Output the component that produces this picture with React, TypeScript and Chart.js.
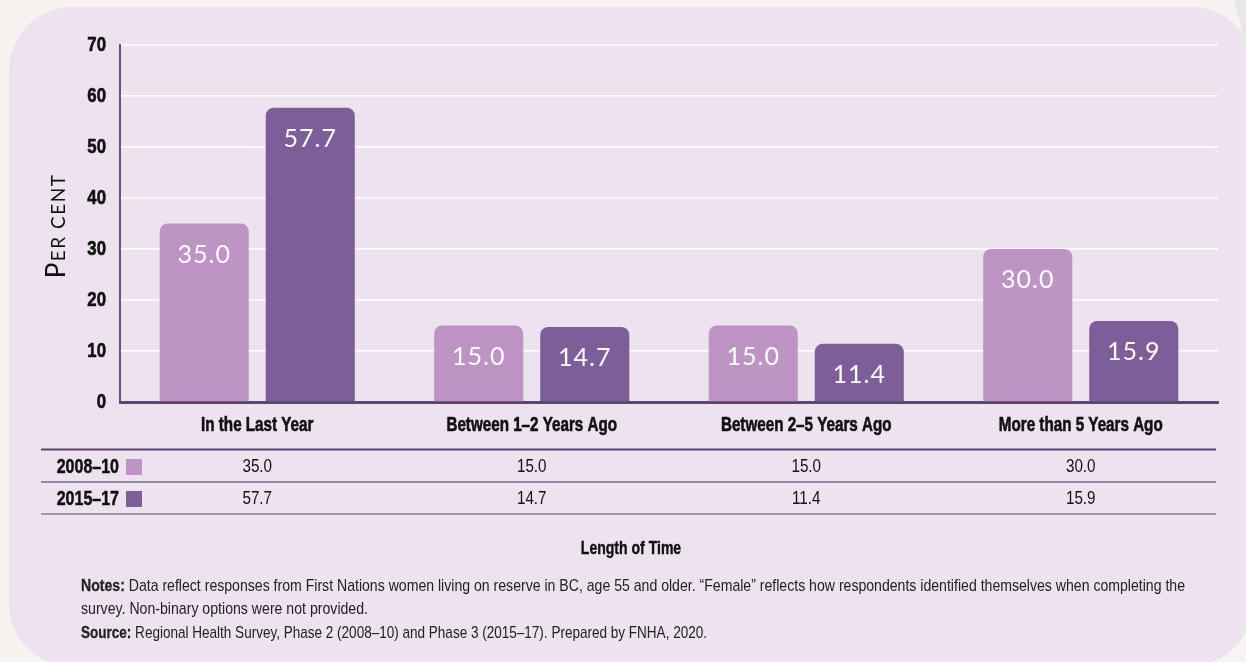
import React, { useEffect, useRef } from "react";
import { Chart, registerables } from "chart.js";

Chart.register(...registerables);

const categories = [
  "In the Last Year",
  "Between 1–2 Years Ago",
  "Between 2–5 Years Ago",
  "More than 5 Years Ago",
];
const seriesNames = ["2008–10", "2015–17"];
const values2008 = [35.0, 15.0, 15.0, 30.0];
const values2015 = [57.7, 14.7, 11.4, 15.9];
const seriesColors = ["#bd94c4", "#7d5e98"];
const yMin = 0;
const yMax = 70;
const yStep = 10;
const yTickLabels = ["0", "10", "20", "30", "40", "50", "60", "70"];
const yTitleFirst = "P";
const yTitleRest = "ER CENT";
const xTitle = "Length of Time";
const notesBold = "Notes:";
const notesLine1 =
  " Data reflect responses from First Nations women living on reserve in BC, age 55 and older. “Female” reflects how respondents identified themselves when completing the";
const notesLine2 = "survey. Non-binary options were not provided.";
const sourceBold = "Source:";
const sourceText =
  " Regional Health Survey, Phase 2 (2008–10) and Phase 3 (2015–17). Prepared by FNHA, 2020.";

const SANS = "'Liberation Sans', Arial, sans-serif";
const ROUND = "Lato, 'Noto Sans', sans-serif";
const NARROW_X = 0.78;

const W = 1246;
const H = 662;

function txt(
  ctx: CanvasRenderingContext2D,
  s: string,
  x: number,
  y: number,
  size: number,
  bold: boolean,
  align: CanvasTextAlign,
  sx: number = NARROW_X,
  color: string = "#111",
  heavy: number = 0
) {
  ctx.save();
  ctx.font = `${bold ? 700 : 400} ${size}px ${SANS}`;
  ctx.fillStyle = color;
  ctx.textAlign = align;
  ctx.textBaseline = "middle";
  ctx.translate(x, y);
  ctx.scale(sx, 1);
  ctx.fillText(s, 0, 0);
  if (heavy > 0) {
    ctx.strokeStyle = color;
    ctx.lineWidth = heavy;
    ctx.lineJoin = "round";
    ctx.strokeText(s, 0, 0);
  }
  ctx.restore();
}

const panelPlugin = {
  id: "panelBg",
  beforeDraw(chart: any) {
    const ctx = chart.ctx;
    ctx.save();
    ctx.fillStyle = "#f6f3f0";
    ctx.fillRect(0, 0, W, H);
    ctx.fillStyle = "#e8e6e7";
    ctx.beginPath();
    ctx.moveTo(1234, 0);
    ctx.lineTo(1246, 0);
    ctx.lineTo(1246, 45);
    ctx.closePath();
    ctx.fill();
    ctx.fillStyle = "#ede3ef";
    ctx.beginPath();
    (ctx as any).roundRect(9, 7, 1243, 658, [63, 60, 60, 60]);
    ctx.fill();
    ctx.restore();
  },
};

const labelsPlugin = {
  id: "barLabels",
  afterDatasetsDraw(chart: any) {
    const ctx = chart.ctx;
    ctx.save();
    ctx.fillStyle = "#ffffff";
    ctx.font = `400 25px ${ROUND}`;
    ctx.textAlign = "center";
    ctx.textBaseline = "middle";
    (ctx as any).letterSpacing = "1px";
    chart.data.datasets.forEach((ds: any, di: number) => {
      const meta = chart.getDatasetMeta(di);
      meta.data.forEach((el: any, i: number) => {
        ctx.fillText(ds.data[i].toFixed(1), el.x, el.y + 31);
      });
    });
    ctx.restore();
  },
};

const extrasPlugin = {
  id: "extras",
  afterDraw(chart: any) {
    const ctx: CanvasRenderingContext2D = chart.ctx;
    const xs = chart.scales.x;
    const ys = chart.scales.y;
    ctx.save();

    // Y tick labels
    yTickLabels.forEach((t) => {
      txt(ctx, t, 106, ys.getPixelForValue(Number(t)) + 0.5, 21, true, "right", 0.8, "#111", 0.6);
    });

    // X category labels
    categories.forEach((c, i) => {
      txt(ctx, c, xs.getPixelForValue(i), 425, 20, true, "center", 0.76, "#111", 0.6);
    });

    // Y axis title (small caps)
    ctx.save();
    ctx.translate(65, 226);
    ctx.rotate(-Math.PI / 2);
    ctx.fillStyle = "#111";
    ctx.textBaseline = "alphabetic";
    (ctx as any).letterSpacing = "1.5px";
    ctx.font = `400 26px ${ROUND}`;
    const wP = ctx.measureText(yTitleFirst).width;
    ctx.font = `400 19px ${ROUND}`;
    const wR = ctx.measureText(yTitleRest).width;
    const start = -(wP + wR) / 2;
    ctx.font = `400 26px ${ROUND}`;
    ctx.textAlign = "left";
    ctx.fillText(yTitleFirst, start, 0);
    ctx.font = `400 19px ${ROUND}`;
    ctx.fillText(yTitleRest, start + wP, 0);
    ctx.restore();

    // Table lines
    const lineL = 41;
    const lineR = 1216;
    const hl = (y: number, color: string, w: number) => {
      ctx.strokeStyle = color;
      ctx.lineWidth = w;
      ctx.beginPath();
      ctx.moveTo(lineL, y);
      ctx.lineTo(lineR, y);
      ctx.stroke();
    };
    hl(449.5, "#5b4270", 2);
    hl(482, "#7d6590", 1.5);
    hl(514, "#a892b4", 2);

    // Table rows
    const rows = [values2008, values2015];
    const rowY = [467, 499];
    rows.forEach((vals, r) => {
      const y = rowY[r];
      txt(ctx, seriesNames[r], 119, y, 20, true, "right", 0.8, "#111", 0.5);
      ctx.fillStyle = seriesColors[r];
      ctx.fillRect(126, y - 8, 16, 16);
      vals.forEach((v, i) => {
        txt(ctx, v.toFixed(1), xs.getPixelForValue(i), y, 19, false, "center", 0.8);
      });
    });

    // X title
    txt(ctx, xTitle, 631, 549, 18, true, "center", 0.78, "#111", 0.4);

    // Notes
    const drawLine = (bold: string, rest: string, y: number, endX: number) => {
      const size = 17;
      ctx.font = `700 ${size}px ${SANS}`;
      const wb = bold ? ctx.measureText(bold).width : 0;
      ctx.font = `400 ${size}px ${SANS}`;
      const wr = ctx.measureText(rest).width;
      const sx = (endX - 81) / (wb + wr);
      if (bold) txt(ctx, bold, 81, y, size, true, "left", sx, "#222", 0.3);
      txt(ctx, rest, 81 + wb * sx, y, size, false, "left", sx, "#222");
    };
    drawLine(notesBold, notesLine1, 586, 1185);
    drawLine("", notesLine2, 609, 368);
    drawLine(sourceBold, sourceText, 633, 707);

    ctx.restore();
  },
};

export default function App() {
  const ref = useRef<HTMLCanvasElement | null>(null);

  useEffect(() => {
    if (!ref.current) return;
    const barCommon = {
      borderRadius: { topLeft: 8, topRight: 8, bottomLeft: 0, bottomRight: 0 },
      borderSkipped: "start",
      categoryPercentage: 0.7726,
      barPercentage: 0.84,
    };
    const chart = new Chart(ref.current, {
      type: "bar",
      data: {
        labels: categories,
        datasets: [
          { label: seriesNames[0], data: values2008, backgroundColor: seriesColors[0], ...barCommon },
          { label: seriesNames[1], data: values2015, backgroundColor: seriesColors[1], ...barCommon },
        ],
      },
      options: {
        responsive: false,
        animation: false,
        devicePixelRatio: 1,
        layout: { padding: { left: 0, right: 28, top: 45, bottom: 0 } },
        plugins: {
          legend: { display: false },
          tooltip: { enabled: false },
          title: { display: false },
        },
        scales: {
          x: {
            type: "category",
            grid: { display: false, drawTicks: false },
            border: { display: true, color: "#5e4472", width: 3 },
            ticks: { display: false, autoSkip: false },
            afterFit: (scale: any) => {
              scale.height = 260;
            },
          },
          y: {
            min: yMin,
            max: yMax,
            ticks: { display: false, stepSize: yStep },
            grid: { color: "#ffffff", lineWidth: 1.5, drawTicks: false },
            border: { display: true, color: "#6c5082", width: 2 },
            afterFit: (scale: any) => {
              scale.width = 120;
            },
          },
        },
      },
      plugins: [panelPlugin, labelsPlugin, extrasPlugin],
    } as any);
    return () => chart.destroy();
  }, []);

  return (
    <div style={{ position: "fixed", left: 0, top: 0, width: W, height: H }}>
      <canvas ref={ref} width={W} height={H} style={{ width: W, height: H, display: "block" }} />
    </div>
  );
}
